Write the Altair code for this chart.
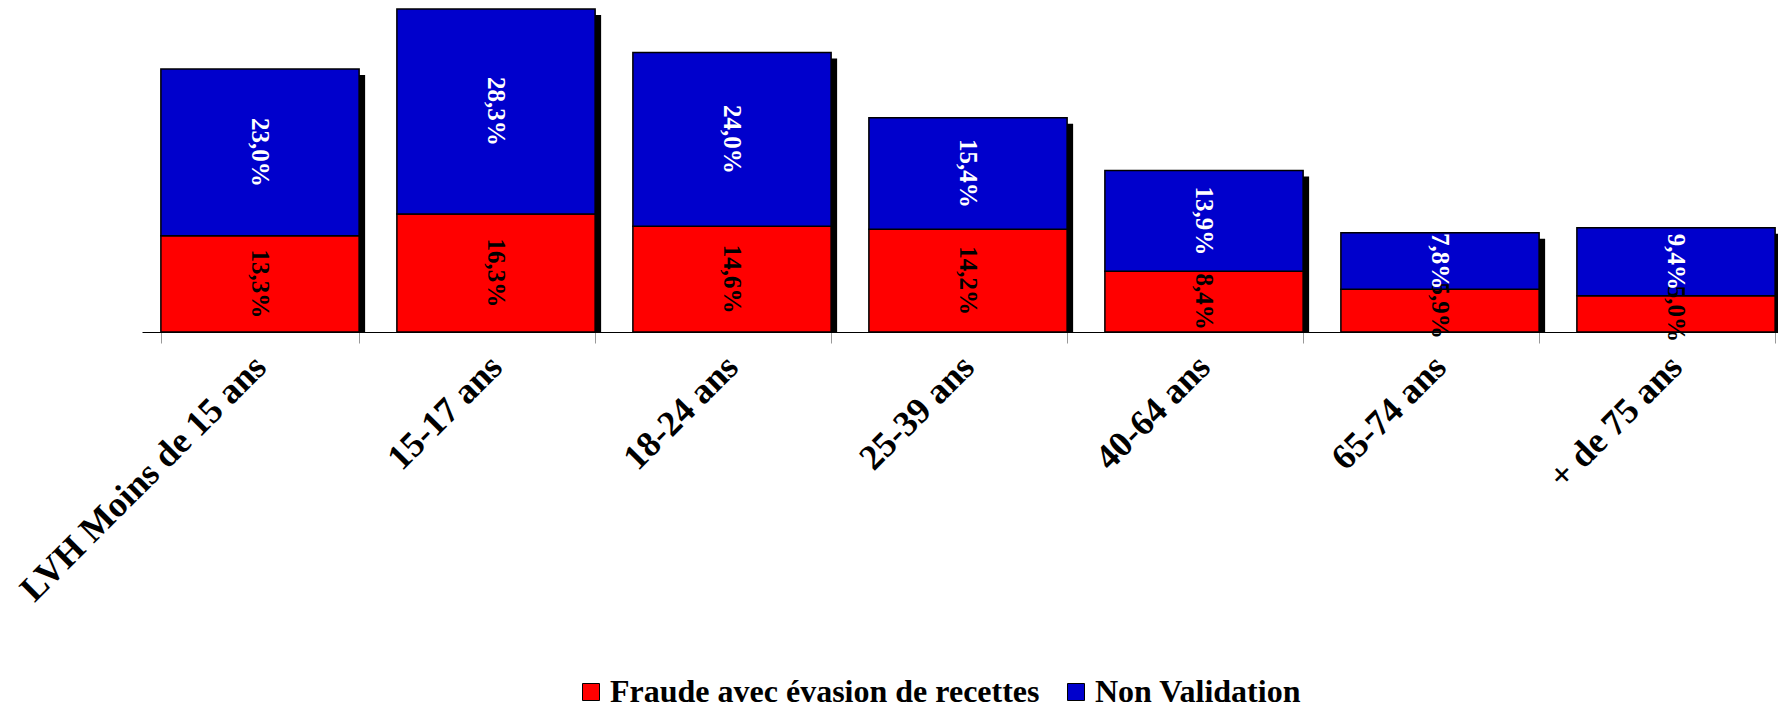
import altair as alt
import pandas as pd

categories = ["LVH Moins de 15 ans", "15-17 ans", "18-24 ans", "25-39 ans", "40-64 ans", "65-74 ans", "+ de 75 ans"]
fraude = [13.3, 16.3, 14.6, 14.2, 8.4, 5.9, 5.0]
non_validation = [23.0, 28.3, 24.0, 15.4, 13.9, 7.8, 9.4]
series_names = ["Fraude avec évasion de recettes", "Non Validation"]
series_colors = ["#FF0000", "#0000CC"]

FONT = "Liberation Serif"

rows = []
for c, f, n in zip(categories, fraude, non_validation):
    rows.append({"cat": c, "series": series_names[0], "lo": 0.0, "hi": f, "mid": f / 2,
                 "label": f"{f:.1f}%".replace(".", ",")})
    rows.append({"cat": c, "series": series_names[1], "lo": f, "hi": f + n, "mid": f + n / 2,
                 "label": f"{n:.1f}%".replace(".", ",")})
df = pd.DataFrame(rows)
tot = pd.DataFrame({"cat": categories, "total": [f + n for f, n in zip(fraude, non_validation)]})

x_enc = alt.X("cat:N", sort=categories,
              scale=alt.Scale(range=[0, 1652], paddingInner=0.16, paddingOuter=0.08),
              axis=alt.Axis(title=None, labelAngle=-45, labelAlign="right", labelBaseline="middle",
                            labelFont=FONT, labelFontWeight="bold", labelFontSize=36,
                            labelColor="black", labelPadding=18, labelOverlap=False, labelBound=False,
                            labelLimit=800,
                            tickBand="extent", tickColor="#999999", tickSize=11, tickWidth=1,
                            domainColor="black", domainWidth=1, grid=False))
y_scale = alt.Scale(domain=[0, 44.6], nice=False, zero=True)

shadow = alt.Chart(tot).mark_bar(color="black", xOffset=6, x2Offset=6, yOffset=6).encode(
    x=x_enc,
    y=alt.Y("total:Q", scale=y_scale, axis=None),
    y2=alt.Y2(datum=0),
)

bars = alt.Chart(df).mark_bar(stroke="black", strokeWidth=1.5).encode(
    x=x_enc,
    y=alt.Y("hi:Q", scale=y_scale, axis=None),
    y2="lo:Q",
    color=alt.Color("series:N", scale=alt.Scale(domain=series_names, range=series_colors),
                    legend=alt.Legend(title=None, orient="none", direction="horizontal",
                                      legendX=433, legendY=667,
                                      symbolType="square", symbolSize=289,
                                      symbolStrokeColor="black", symbolStrokeWidth=1,
                                      labelFont=FONT, labelFontWeight="bold", labelFontSize=32,
                                      labelColor="black", labelOffset=3, columnPadding=20,
                                      labelLimit=600)),
)

texts = alt.Chart(df).mark_text(angle=90, font=FONT, fontWeight="bold", fontSize=25,
                                align="center", baseline="middle").encode(
    x=x_enc,
    y=alt.Y("mid:Q", scale=y_scale, axis=None),
    text="label:N",
    color=alt.condition(alt.datum.series == "Non Validation", alt.value("white"), alt.value("black")),
)

chart = alt.layer(shadow, bars, texts).properties(
    width=1636, height=323,
    autosize=alt.AutoSizeParams(type="none"),
    padding={"left": 142, "top": 9, "right": 0, "bottom": 378},
    background="white",
).configure_view(stroke=None)

chart.save("out.html", embed_options={"renderer": "svg", "actions": False})
